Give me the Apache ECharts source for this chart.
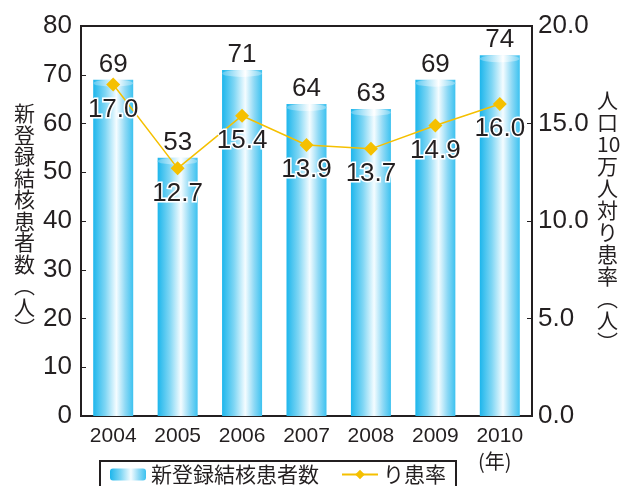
<!DOCTYPE html>
<html>
<head>
<meta charset="utf-8">
<script src="https://cdn.jsdelivr.net/npm/echarts@6/dist/echarts.min.js"></script>
<style>
  html, body { margin: 0; padding: 0; background: #fff; }
  #main { width: 621px; height: 486px; }
</style>
</head>
<body>
<div id="main"></div>
<script>
// データ
var years = ['2004', '2005', '2006', '2007', '2008', '2009', '2010'];
var patients = [69, 53, 71, 64, 63, 69, 74];
var rates = [17.0, 12.7, 15.4, 13.9, 13.7, 14.9, 16.0];
var leftTicks = [0, 80, 10];
var rightTicks = [0, 20, 5];

var chart = echarts.init(document.getElementById('main'));

var font = '"Liberation Sans", "Noto Sans CJK JP", sans-serif';
var jpFont = '"Noto Sans CJK JP", sans-serif';
var ink = '#231f20';

// 円柱っぽいグラデーション
var barGrad = new echarts.graphic.LinearGradient(0, 0, 1, 0, [
  { offset: 0, color: '#1db6ec' },
  { offset: 0.3, color: '#7fd6f4' },
  { offset: 0.58, color: '#f4fcff' },
  { offset: 0.8, color: '#8ed9f5' },
  { offset: 1, color: '#3cc2f0' }
]);
var capGrad = new echarts.graphic.LinearGradient(0, 0, 1, 0, [
  { offset: 0, color: '#5cc9f1' },
  { offset: 0.58, color: '#ffffff' },
  { offset: 1, color: '#7ad3f3' }
]);

function vertical(s) {
  return s.split('|').join('\n');
}

var option = {
  animation: false,
  textStyle: { fontFamily: font, color: ink },
  grid: { left: 81, right: 89, top: 26, bottom: 70, outerBoundsMode: 'none', containLabel: false },
  legend: {
    data: ['新登録結核患者数', 'り患率'],
    left: 100,
    top: 461,
    padding: [3, 10, 8, 10],
    borderColor: ink,
    borderWidth: 2,
    itemGap: 22,
    itemWidth: 36,
    itemHeight: 12,
    textStyle: { fontFamily: jpFont, fontSize: 21, color: ink }
  },
  xAxis: {
    type: 'category',
    data: years,
    axisLine: { lineStyle: { color: ink, width: 2 } },
    axisTick: { inside: true, length: 4, lineStyle: { color: ink, width: 1 } },
    axisLabel: { fontSize: 21, color: ink, margin: 10, interval: 0, hideOverlap: false }
  },
  yAxis: [{
    type: 'value',
    min: leftTicks[0],
    max: leftTicks[1],
    interval: leftTicks[2],
    name: vertical('新|登|録|結|核|患|者|数|︵|人|︶'),
    nameLocation: 'middle',
    nameRotate: 0,
    nameGap: 46,
    nameTextStyle: { fontFamily: jpFont, fontSize: 21, color: ink, lineHeight: 21.5 },
    axisLine: { show: true, lineStyle: { color: ink, width: 2 } },
    axisTick: { show: true, inside: true, length: 5, lineStyle: { color: ink } },
    axisLabel: { fontSize: 26, color: ink, margin: 9 },
    splitLine: { show: false }
  }, {
    type: 'value',
    min: rightTicks[0],
    max: rightTicks[1],
    interval: rightTicks[2],
    name: vertical('人|口|10|万|人|対|り|患|率|︵|人|︶'),
    nameLocation: 'middle',
    nameRotate: 0,
    nameGap: 65,
    nameTextStyle: { fontFamily: jpFont, fontSize: 21, color: ink, lineHeight: 22 },
    axisLine: { show: true, lineStyle: { color: ink, width: 2 } },
    axisTick: { show: true, inside: true, length: 5, lineStyle: { color: ink } },
    axisLabel: {
      fontSize: 26, color: ink, margin: 6,
      formatter: function (v) { return v.toFixed(1); }
    },
    splitLine: { show: false }
  }],
  graphic: [{
    type: 'rect',
    shape: { x: 81, y: 26, width: 451, height: 390 },
    style: { fill: 'none', stroke: ink, lineWidth: 2 },
    silent: true
  }, {
    type: 'text',
    left: 478,
    top: 451,
    style: { text: '(年)', font: '20px ' + jpFont, fill: ink }
  }],
  series: [{
    name: '新登録結核患者数',
    type: 'bar',
    data: patients,
    barWidth: 40,
    itemStyle: { color: barGrad },
    label: { show: true, position: 'top', distance: 2, fontSize: 26, color: ink },
    z: 2
  }, {
    name: 'cap',
    type: 'pictorialBar',
    data: patients,
    symbol: 'circle',
    symbolSize: [40, 7],
    symbolPosition: 'end',
    symbolOffset: [0, 0],
    itemStyle: { color: capGrad },
    z: 3,
    silent: true
  }, {
    name: 'り患率',
    type: 'line',
    yAxisIndex: 1,
    data: rates,
    symbol: 'diamond',
    symbolSize: 14,
    lineStyle: { color: '#f5c000', width: 1.5 },
    itemStyle: { color: '#f5c000' },
    label: {
      show: true, position: 'bottom', distance: 5, fontSize: 26, color: ink,
      textBorderColor: '#fff', textBorderWidth: 3,
      formatter: function (p) { return p.value.toFixed(1); }
    },
    z: 5
  }]
};

chart.setOption(option);
</script>
</body>
</html>
